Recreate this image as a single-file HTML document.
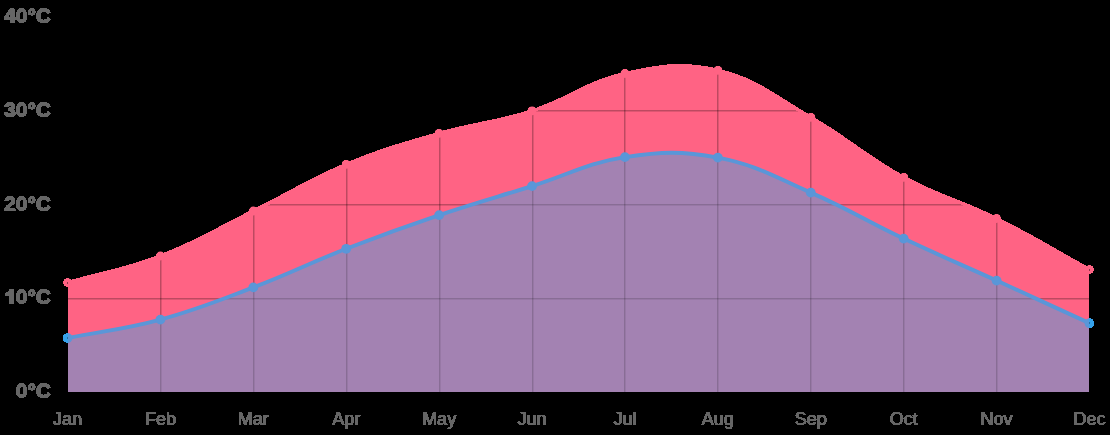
<!DOCTYPE html>
<html><head><meta charset="utf-8"><style>
html,body{margin:0;padding:0;background:#000;width:1110px;height:435px;overflow:hidden}
svg{display:block}
.xl text{font-family:"Liberation Sans",sans-serif;font-size:18px;fill:#666;text-anchor:middle}
.yl text{font-family:"Liberation Sans",sans-serif;font-size:21px;font-weight:bold;fill:#666;text-anchor:end}
</style></head><body>
<svg width="1110" height="435" viewBox="0 0 1110 435">
<defs><clipPath id="ba"><path d="M67.50 338.00 C104.66 330.64 123.94 329.53 160.41 319.60 C198.27 309.29 216.58 301.40 253.32 287.40 C290.91 273.08 308.73 263.39 346.23 248.80 C383.06 234.47 401.69 227.74 439.14 215.10 C476.02 202.66 494.88 197.70 532.05 186.10 C569.21 174.50 586.93 162.93 624.95 157.10 C661.25 151.53 681.93 150.74 717.86 157.60 C756.26 164.94 774.41 176.75 810.77 192.60 C848.74 209.15 866.21 220.85 903.68 238.60 C940.54 256.05 959.47 263.70 996.59 280.60 C1033.80 297.54 1052.34 306.16 1089.50 323.20 L1089.50 392 L67.50 392 Z"/></clipPath><clipPath id="pa"><rect x="68" y="0" width="1021" height="392"/></clipPath>
<filter id="th" x="-10%" y="-10%" width="120%" height="120%"><feComponentTransfer><feFuncA type="discrete" tableValues="0 1 1"/></feComponentTransfer></filter><filter id="th2" x="-10%" y="-10%" width="120%" height="120%"><feComponentTransfer><feFuncA type="discrete" tableValues="0 1 1"/></feComponentTransfer></filter></defs>
<g fill="#36a2eb" shape-rendering="crispEdges"><circle cx="67.50" cy="338.00" r="4.9"/><circle cx="160.41" cy="319.60" r="4.9"/><circle cx="253.32" cy="287.40" r="4.9"/><circle cx="346.23" cy="248.80" r="4.9"/><circle cx="439.14" cy="215.10" r="4.9"/><circle cx="532.05" cy="186.10" r="4.9"/><circle cx="624.95" cy="157.10" r="4.9"/><circle cx="717.86" cy="157.60" r="4.9"/><circle cx="810.77" cy="192.60" r="4.9"/><circle cx="903.68" cy="238.60" r="4.9"/><circle cx="996.59" cy="280.60" r="4.9"/><circle cx="1089.50" cy="323.20" r="4.9"/></g>
<g fill="#ff6384" shape-rendering="crispEdges"><circle cx="67.50" cy="282.60" r="4.4"/><circle cx="160.41" cy="256.00" r="4.4"/><circle cx="253.32" cy="211.00" r="4.4"/><circle cx="346.23" cy="164.40" r="4.4"/><circle cx="439.14" cy="133.40" r="4.4"/><circle cx="532.05" cy="110.90" r="4.4"/><circle cx="624.95" cy="73.50" r="4.4"/><circle cx="717.86" cy="70.30" r="4.4"/><circle cx="810.77" cy="117.30" r="4.4"/><circle cx="903.68" cy="177.30" r="4.4"/><circle cx="996.59" cy="218.50" r="4.4"/><circle cx="1089.50" cy="269.50" r="4.4"/></g>
<g clip-path="url(#pa)">
<path d="M67.50 282.60 C104.66 271.96 124.47 269.85 160.41 256.00 C198.80 241.21 216.28 229.26 253.32 211.00 C290.61 192.62 307.96 180.38 346.23 164.40 C382.29 149.34 401.52 144.23 439.14 133.40 C475.85 122.83 495.75 122.60 532.05 110.90 C570.07 98.64 586.41 81.92 624.95 73.50 C660.73 65.68 682.80 62.04 717.86 70.30 C757.13 79.56 774.73 96.55 810.77 117.30 C849.06 139.35 864.95 156.21 903.68 177.30 C939.28 196.69 960.21 200.45 996.59 218.50 C1034.53 237.33 1052.34 249.10 1089.50 269.50 L1089.50 392 L67.50 392 Z" fill="#ff6384" shape-rendering="crispEdges"/>
<g fill="#000" fill-opacity="0.26"><rect x="160" y="0" width="1" height="392"/><rect x="253" y="0" width="1" height="392"/><rect x="346" y="0" width="1" height="392"/><rect x="439" y="0" width="1" height="392"/><rect x="532" y="0" width="1" height="392"/><rect x="624" y="0" width="1" height="392"/><rect x="717" y="0" width="1" height="392"/><rect x="810" y="0" width="1" height="392"/><rect x="903" y="0" width="1" height="392"/><rect x="996" y="0" width="1" height="392"/><rect x="68" y="110" width="1021" height="1"/><rect x="68" y="204" width="1021" height="1"/><rect x="68" y="298" width="1021" height="1"/></g><g fill="#000" fill-opacity="0.13"><rect x="161" y="0" width="1" height="392"/><rect x="254" y="0" width="1" height="392"/><rect x="347" y="0" width="1" height="392"/><rect x="440" y="0" width="1" height="392"/><rect x="533" y="0" width="1" height="392"/><rect x="625" y="0" width="1" height="392"/><rect x="718" y="0" width="1" height="392"/><rect x="811" y="0" width="1" height="392"/><rect x="904" y="0" width="1" height="392"/><rect x="997" y="0" width="1" height="392"/><rect x="68" y="111" width="1021" height="1"/><rect x="68" y="205" width="1021" height="1"/><rect x="68" y="299" width="1021" height="1"/></g>
<path d="M67.50 282.60 C104.66 271.96 124.47 269.85 160.41 256.00 C198.80 241.21 216.28 229.26 253.32 211.00 C290.61 192.62 307.96 180.38 346.23 164.40 C382.29 149.34 401.52 144.23 439.14 133.40 C475.85 122.83 495.75 122.60 532.05 110.90 C570.07 98.64 586.41 81.92 624.95 73.50 C660.73 65.68 682.80 62.04 717.86 70.30 C757.13 79.56 774.73 96.55 810.77 117.30 C849.06 139.35 864.95 156.21 903.68 177.30 C939.28 196.69 960.21 200.45 996.59 218.50 C1034.53 237.33 1052.34 249.10 1089.50 269.50" fill="none" stroke="#ff6384" stroke-width="3.4" shape-rendering="crispEdges"/>
<path d="M67.50 338.00 C104.66 330.64 123.94 329.53 160.41 319.60 C198.27 309.29 216.58 301.40 253.32 287.40 C290.91 273.08 308.73 263.39 346.23 248.80 C383.06 234.47 401.69 227.74 439.14 215.10 C476.02 202.66 494.88 197.70 532.05 186.10 C569.21 174.50 586.93 162.93 624.95 157.10 C661.25 151.53 681.93 150.74 717.86 157.60 C756.26 164.94 774.41 176.75 810.77 192.60 C848.74 209.15 866.21 220.85 903.68 238.60 C940.54 256.05 959.47 263.70 996.59 280.60 C1033.80 297.54 1052.34 306.16 1089.50 323.20 L1089.50 392 L67.50 392 Z" fill="#a382b2"/>
<g clip-path="url(#ba)"><g fill="#000" fill-opacity="0.16"><rect x="160" y="0" width="1" height="392"/><rect x="253" y="0" width="1" height="392"/><rect x="346" y="0" width="1" height="392"/><rect x="439" y="0" width="1" height="392"/><rect x="532" y="0" width="1" height="392"/><rect x="624" y="0" width="1" height="392"/><rect x="717" y="0" width="1" height="392"/><rect x="810" y="0" width="1" height="392"/><rect x="903" y="0" width="1" height="392"/><rect x="996" y="0" width="1" height="392"/><rect x="68" y="110" width="1021" height="1"/><rect x="68" y="204" width="1021" height="1"/><rect x="68" y="298" width="1021" height="1"/></g><g fill="#000" fill-opacity="0.07"><rect x="161" y="0" width="1" height="392"/><rect x="254" y="0" width="1" height="392"/><rect x="347" y="0" width="1" height="392"/><rect x="440" y="0" width="1" height="392"/><rect x="533" y="0" width="1" height="392"/><rect x="625" y="0" width="1" height="392"/><rect x="718" y="0" width="1" height="392"/><rect x="811" y="0" width="1" height="392"/><rect x="904" y="0" width="1" height="392"/><rect x="997" y="0" width="1" height="392"/><rect x="68" y="111" width="1021" height="1"/><rect x="68" y="205" width="1021" height="1"/><rect x="68" y="299" width="1021" height="1"/></g></g>
<g fill="#ff6384"><circle cx="67.50" cy="282.60" r="4.4"/><circle cx="160.41" cy="256.00" r="4.4"/><circle cx="253.32" cy="211.00" r="4.4"/><circle cx="346.23" cy="164.40" r="4.4"/><circle cx="439.14" cy="133.40" r="4.4"/><circle cx="532.05" cy="110.90" r="4.4"/><circle cx="624.95" cy="73.50" r="4.4"/><circle cx="717.86" cy="70.30" r="4.4"/><circle cx="810.77" cy="117.30" r="4.4"/><circle cx="903.68" cy="177.30" r="4.4"/><circle cx="996.59" cy="218.50" r="4.4"/><circle cx="1089.50" cy="269.50" r="4.4"/></g>
<path d="M67.50 338.00 C104.66 330.64 123.94 329.53 160.41 319.60 C198.27 309.29 216.58 301.40 253.32 287.40 C290.91 273.08 308.73 263.39 346.23 248.80 C383.06 234.47 401.69 227.74 439.14 215.10 C476.02 202.66 494.88 197.70 532.05 186.10 C569.21 174.50 586.93 162.93 624.95 157.10 C661.25 151.53 681.93 150.74 717.86 157.60 C756.26 164.94 774.41 176.75 810.77 192.60 C848.74 209.15 866.21 220.85 903.68 238.60 C940.54 256.05 959.47 263.70 996.59 280.60 C1033.80 297.54 1052.34 306.16 1089.50 323.20" fill="none" stroke="#5a96d8" stroke-width="3.9"/>
<g fill="#5a96d8"><circle cx="67.50" cy="338.00" r="4.9"/><circle cx="160.41" cy="319.60" r="4.9"/><circle cx="253.32" cy="287.40" r="4.9"/><circle cx="346.23" cy="248.80" r="4.9"/><circle cx="439.14" cy="215.10" r="4.9"/><circle cx="532.05" cy="186.10" r="4.9"/><circle cx="624.95" cy="157.10" r="4.9"/><circle cx="717.86" cy="157.60" r="4.9"/><circle cx="810.77" cy="192.60" r="4.9"/><circle cx="903.68" cy="238.60" r="4.9"/><circle cx="996.59" cy="280.60" r="4.9"/><circle cx="1089.50" cy="323.20" r="4.9"/></g>
</g>
<g fill="#000" fill-opacity="0.45"><rect x="67" y="282" width="1" height="2"/><rect x="1089" y="269" width="1" height="2"/></g><g fill="#000" fill-opacity="0.3"><rect x="67" y="337" width="1" height="2"/><rect x="1089" y="322" width="1" height="2"/></g>
<g class="xl" filter="url(#th)"><text x="67.00" y="425.00">Jan</text><text x="68.00" y="425.00">Jan</text><text x="159.91" y="425.00">Feb</text><text x="160.91" y="425.00">Feb</text><text x="252.82" y="425.00">Mar</text><text x="253.82" y="425.00">Mar</text><text x="345.73" y="425.00">Apr</text><text x="346.73" y="425.00">Apr</text><text x="438.64" y="425.00">May</text><text x="439.64" y="425.00">May</text><text x="531.55" y="425.00">Jun</text><text x="532.55" y="425.00">Jun</text><text x="624.45" y="425.00">Jul</text><text x="625.45" y="425.00">Jul</text><text x="717.36" y="425.00">Aug</text><text x="718.36" y="425.00">Aug</text><text x="810.27" y="425.00">Sep</text><text x="811.27" y="425.00">Sep</text><text x="903.18" y="425.00">Oct</text><text x="904.18" y="425.00">Oct</text><text x="996.09" y="425.00">Nov</text><text x="997.09" y="425.00">Nov</text><text x="1089.00" y="425.00">Dec</text><text x="1090.00" y="425.00">Dec</text></g>
<g class="yl" filter="url(#th2)"><text x="50.40" y="23.00">40°C</text><text x="51.60" y="23.00">40°C</text><text x="51.00" y="22.40">40°C</text><text x="50.40" y="117.00">30°C</text><text x="51.60" y="117.00">30°C</text><text x="51.00" y="116.40">30°C</text><text x="50.40" y="211.00">20°C</text><text x="51.60" y="211.00">20°C</text><text x="51.00" y="210.40">20°C</text><text x="50.40" y="304.00">0°C</text><text x="51.60" y="304.00">0°C</text><text x="51.00" y="303.40">0°C</text><text x="50.40" y="398.00">0°C</text><text x="51.60" y="398.00">0°C</text><text x="51.00" y="397.40">0°C</text></g>
<path d="M9 289H14V304H9V296H5V293H6V292H8V291H9Z" fill="#666" shape-rendering="crispEdges"/>
</svg>
</body></html>
